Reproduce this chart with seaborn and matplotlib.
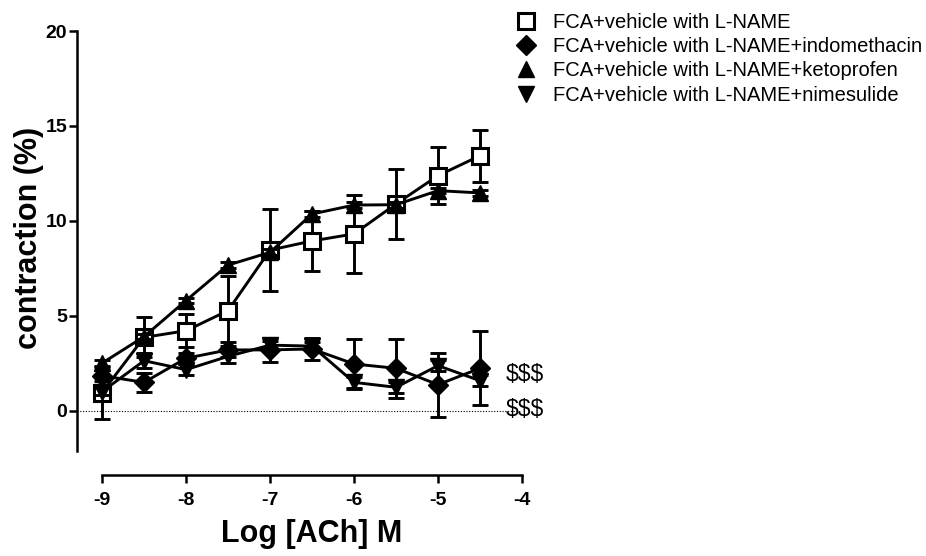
import matplotlib
matplotlib.use("Agg")
import matplotlib.pyplot as plt
from matplotlib.lines import Line2D
import numpy as np
import pandas as pd
import seaborn as sns

# log concentration of ACh
log_ach = [-9.0, -8.5, -8.0, -7.5, -7.0, -6.5, -6.0, -5.5, -5.0, -4.5]

# contraction (%) and SEM for each group
lname = [0.95, 3.86, 4.21, 5.27, 8.46, 8.94, 9.31, 10.89, 12.38, 13.43]
lname_err = [1.37, 1.06, 0.87, 1.84, 2.18, 1.58, 2.07, 1.84, 1.49, 1.38]

indo = [1.84, 1.49, 2.76, 3.20, 3.20, 3.25, 2.46, 2.23, 1.37, 2.23]
indo_err = [0.3, 0.5, 0.3, 0.4, 0.65, 0.6, 1.32, 1.55, 1.69, 1.95]

keto = [2.5, 3.9, 5.8, 7.67, 8.34, 10.36, 10.83, 10.85, 11.59, 11.47]
keto_err = [0.15, 0.15, 0.15, 0.15, 0.15, 0.15, 0.15, 0.15, 0.15, 0.15]

nime = [1.0, 2.63, 2.16, 2.86, 3.45, 3.4, 1.49, 1.23, 2.37, 1.58]
nime_err = [0.2, 0.4, 0.3, 0.35, 0.2, 0.2, 0.3, 0.3, 0.3, 0.3]

labels = ["FCA+vehicle with L-NAME",
          "FCA+vehicle with L-NAME+indomethacin",
          "FCA+vehicle with L-NAME+ketoprofen",
          "FCA+vehicle with L-NAME+nimesulide"]

sig_labels = ["$$$", "$$$"]
sig_y = [1.93, 0.05]

sns.set_theme(style="ticks")
plt.rcParams['font.family'] = ['Liberation Sans', 'DejaVu Sans']
plt.rcParams.update({"text.color": "black", "axes.labelcolor": "black",
                     "xtick.color": "black", "ytick.color": "black",
                     "axes.edgecolor": "black"})

fig = plt.figure(figsize=(9.26, 5.56), dpi=100)
ax = fig.add_axes([77 / 926, 81 / 556, 445 / 926, 444 / 556])

# square series sits underneath, filled symbols are drawn over it
series = [
    (labels[0], lname, lname_err, "s", "white", 11, 2),
    (labels[1], indo, indo_err, "D", "black", 10, 4),
    (labels[2], keto, keto_err, "^", "black", 11, 3),
    (labels[3], nime, nime_err, "v", "black", 11, 5),
]

handles = []
for name, vals, errs, mk, fc, ms, z in series:
    df = pd.DataFrame({"logach": log_ach, "contraction": vals})
    ax.errorbar(log_ach, vals, yerr=errs, fmt="none", ecolor="black",
                elinewidth=2.1, capsize=5.5, capthick=2.1, zorder=z - 0.5)
    sns.lineplot(data=df, x="logach", y="contraction", ax=ax, color="black",
                 marker=mk, markerfacecolor=fc, markeredgecolor="black",
                 markeredgewidth=2.2 if fc == "white" else 1, markersize=ms,
                 linewidth=2.1, errorbar=None, zorder=z)
    handles.append(Line2D([], [], ls="none", marker=mk, color="black",
                          markerfacecolor=fc, markeredgecolor="black",
                          markeredgewidth=2.2 if fc == "white" else 1,
                          markersize=ms))

ax.axhline(0, color="black", linestyle=(0, (1, 1.5)), linewidth=0.8, zorder=0.5)

for txt, yy in zip(sig_labels, sig_y):
    ax.text(-4.19, yy, txt, fontsize=16.5, va="center", ha="left")

ax.set_xlim(-9.298, -4)
ax.set_ylim(-3.39, 20)
ax.set_xticks([-9, -8, -7, -6, -5, -4])
ax.set_yticks([0, 5, 10, 15, 20])
ax.set_xticklabels(["-9", "-8", "-7", "-6", "-5", "-4"])
ax.spines["left"].set_bounds(-2.1, 20)
ax.spines["bottom"].set_bounds(-9, -4)
for s in ["top", "right"]:
    ax.spines[s].set_visible(False)
for s in ["left", "bottom"]:
    ax.spines[s].set_linewidth(1.8)
ax.tick_params(axis="both", direction="out", length=5.5, width=1.8,
               labelsize=14)
ax.tick_params(axis="y", pad=1.5)
ax.tick_params(axis="x", pad=6.5)
for lab in ax.get_xticklabels() + ax.get_yticklabels():
    lab.set_fontweight("bold")

ax.set_xlabel("Log [ACh] M", fontsize=22, fontweight="bold")
ax.set_ylabel("contraction (%)", fontsize=22, fontweight="bold")
ax.xaxis.set_label_coords(0.528, -0.098)
ax.yaxis.set_label_coords(-0.075, 0.534)
ax.set_facecolor("white")

fig.legend(handles, labels, loc="upper left",
           bbox_to_anchor=(506 / 926, 1 - 2.5 / 556),
           bbox_transform=fig.transFigure, frameon=False, fontsize=14.5,
           handlelength=1.0, handletextpad=0.85, labelspacing=0.27,
           borderpad=0)

fig.savefig("out.png", dpi=100, facecolor="white")
